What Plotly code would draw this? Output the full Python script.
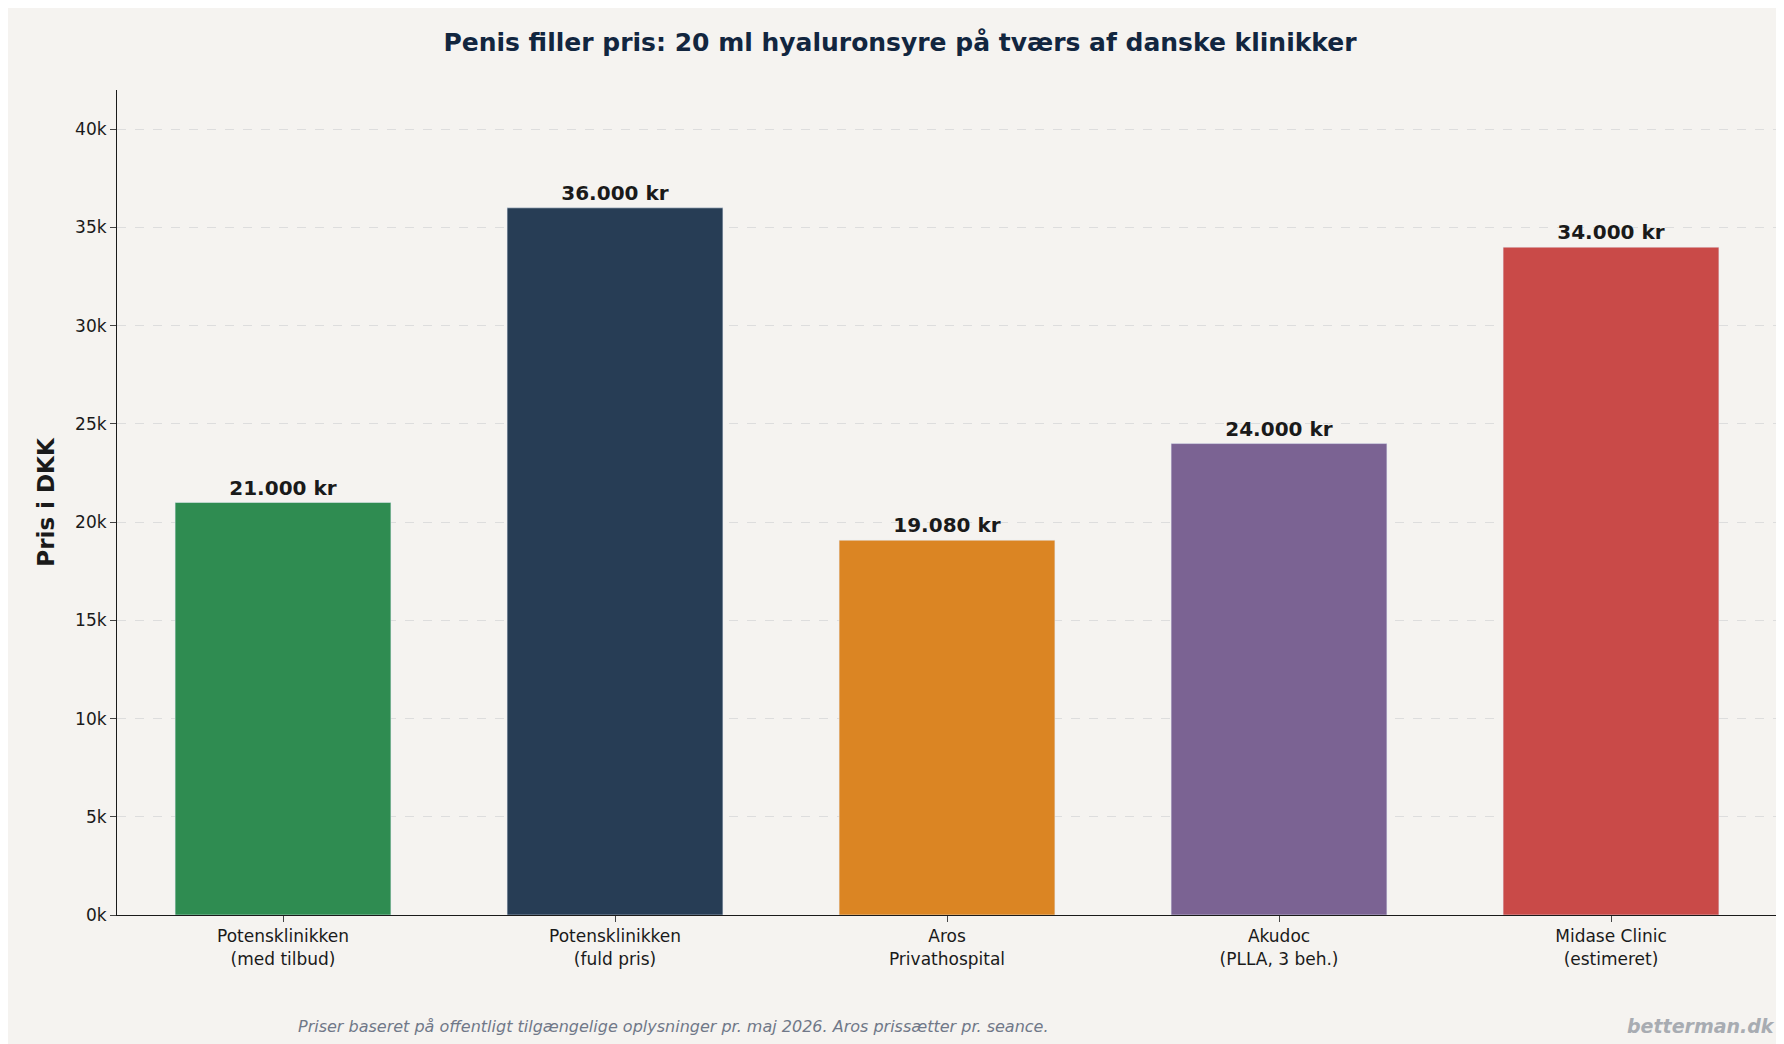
import plotly.graph_objects as go

# data
clinics = ["Potensklinikken<br>(med tilbud)", "Potensklinikken<br>(fuld pris)", "Aros<br>Privathospital",
           "Akudoc<br>(PLLA, 3 beh.)", "Midase Clinic<br>(estimeret)"]
prices = [21000, 36000, 19080, 24000, 34000]
price_labels = ["21.000 kr", "36.000 kr", "19.080 kr", "24.000 kr", "34.000 kr"]
bar_colors = ["#2f8c51", "#273d55", "#db8523", "#7b6393", "#c94a48"]
tick_vals = [0, 5000, 10000, 15000, 20000, 25000, 30000, 35000, 40000]
tick_text = ["0k", "5k", "10k", "15k", "20k", "25k", "30k", "35k", "40k"]

fig = go.Figure(go.Bar(
    x=clinics, y=prices, marker_color=bar_colors, width=0.65,
    text=["<b>%s</b>" % t for t in price_labels], textposition="outside",
    textfont=dict(size=20, color="#1a1a1a"), cliponaxis=False,
))

fig.update_layout(
    width=1784, height=1044,
    paper_bgcolor="#f5f3f0", plot_bgcolor="#f5f3f0",
    font=dict(family="DejaVu Sans", size=17, color="#1a1a1a"),
    margin=dict(l=109, r=15, t=82, b=137),
    title=dict(text="<b>Penis filler pris: 20 ml hyaluronsyre på tværs af danske klinikker</b>",
               x=0.5, xanchor="center", y=0.967, yanchor="middle",
               font=dict(size=25, color="#12263f")),
    showlegend=False,
)
fig.update_yaxes(range=[0, 42000], tickvals=tick_vals, ticktext=tick_text,
                 showgrid=True, gridcolor="#dddddd", griddash="dash",
                 showline=True, linecolor="#1a1a1a", ticks="outside", ticklen=6,
                 title=dict(text="<b>Pris i DKK</b>", font=dict(size=23), standoff=14),
                 zeroline=False)
fig.update_xaxes(showline=True, linecolor="#1a1a1a", ticks="outside", ticklen=6)

fig.add_annotation(text="<i>Priser baseret på offentligt tilgængelige oplysninger pr. maj 2026. Aros prissætter pr. seance.</i>",
                   xref="paper", yref="paper", x=0.335, y=-0.135, xanchor="center", yanchor="middle",
                   showarrow=False, font=dict(size=16, color="#707888"))
fig.add_annotation(text="<b><i>betterman.dk</i></b>",
                   xref="paper", yref="paper", x=1.0, y=-0.135, xanchor="right", yanchor="middle",
                   showarrow=False, font=dict(size=19, color="#a8acb2"))

fig.write_html("out.html")
